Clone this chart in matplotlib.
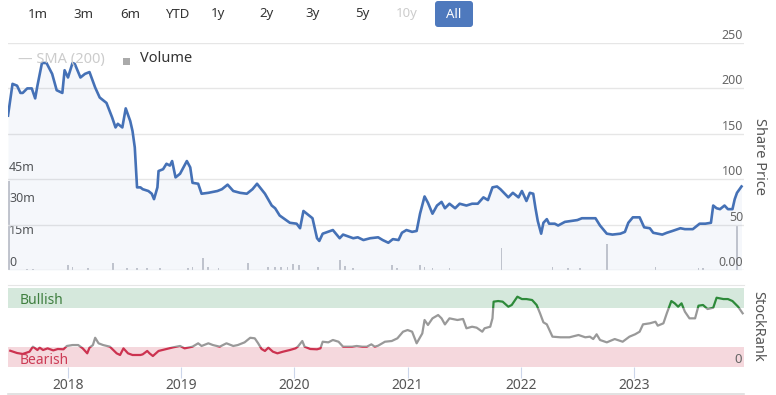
import matplotlib
matplotlib.use("Agg")
import matplotlib.pyplot as plt
import matplotlib.transforms as mtransforms
from matplotlib.patches import Rectangle, FancyBboxPatch
from matplotlib.lines import Line2D

plt.rcParams['font.family'] = ['Noto Sans', 'DejaVu Sans']

# share price (decimal year, price)
price_t = [2017.47, 2017.51, 2017.55, 2017.58, 2017.60, 2017.64, 2017.68, 2017.71, 2017.73, 2017.77,
           2017.81, 2017.86, 2017.90, 2017.95, 2017.97, 2018.00, 2018.04, 2018.06, 2018.11, 2018.15,
           2018.19, 2018.24, 2018.28, 2018.31, 2018.34, 2018.39, 2018.42, 2018.44, 2018.48, 2018.51,
           2018.55, 2018.57, 2018.59, 2018.61, 2018.64, 2018.66, 2018.71, 2018.74, 2018.76, 2018.79,
           2018.80, 2018.84, 2018.87, 2018.90, 2018.92, 2018.95, 2018.99, 2019.02, 2019.05, 2019.08,
           2019.10, 2019.15, 2019.18, 2019.24, 2019.32, 2019.36, 2019.41, 2019.46, 2019.52, 2019.58,
           2019.63, 2019.67, 2019.74, 2019.80, 2019.83, 2019.87, 2019.96, 2020.02, 2020.05, 2020.08,
           2020.16, 2020.20, 2020.22, 2020.25, 2020.34, 2020.40, 2020.43, 2020.52, 2020.56, 2020.61,
           2020.67, 2020.74, 2020.78, 2020.83, 2020.87, 2020.92, 2020.95, 2020.99, 2021.04, 2021.08,
           2021.11, 2021.15, 2021.18, 2021.22, 2021.26, 2021.30, 2021.33, 2021.37, 2021.42, 2021.46,
           2021.52, 2021.57, 2021.62, 2021.67, 2021.71, 2021.75, 2021.79, 2021.82, 2021.89, 2021.93,
           2021.98, 2022.01, 2022.05, 2022.08, 2022.11, 2022.13, 2022.15, 2022.18, 2022.20, 2022.23,
           2022.25, 2022.30, 2022.33, 2022.39, 2022.50, 2022.54, 2022.66, 2022.70, 2022.76, 2022.81,
           2022.88, 2022.92, 2022.95, 2022.99, 2023.05, 2023.09, 2023.14, 2023.17, 2023.25, 2023.29,
           2023.34, 2023.41, 2023.45, 2023.52, 2023.58, 2023.63, 2023.68, 2023.70, 2023.73, 2023.76,
           2023.80, 2023.83, 2023.87, 2023.89, 2023.91, 2023.95]
price_v = [170, 205, 203, 195, 195, 200, 200, 189, 203, 228,
           228, 216, 198, 195, 220, 212, 228, 227, 212, 216,
           218, 201, 190, 187, 184, 168, 157, 161, 157, 178,
           164, 153, 135, 91, 91, 89, 87, 84, 78, 91,
           109, 111, 117, 115, 120, 102, 106, 113, 120, 113,
           96, 95, 84, 85, 87, 89, 94, 87, 85, 84,
           89, 95, 84, 71, 68, 60, 52, 51, 46, 65,
           57, 35, 32, 40, 44, 35, 39, 35, 36, 33,
           35, 36, 33, 30, 34, 33, 41, 44, 42, 43,
           62, 81, 74, 62, 71, 75, 68, 73, 68, 73,
           71, 73, 73, 80, 77, 91, 92, 89, 80, 85,
           80, 87, 76, 85, 84, 68, 54, 40, 52, 56,
           51, 51, 49, 53, 55, 57, 57, 49, 40, 39,
           40, 42, 52, 58, 58, 47, 46, 41, 39, 41,
           43, 46, 45, 45, 51, 51, 52, 71, 68, 67,
           71, 67, 67, 78, 85, 92]

# volume in millions
vol_t = [2017.48, 2017.64, 2017.69, 2018.00, 2018.04, 2018.18, 2018.40, 2018.52, 2018.61, 2018.70,
         2018.81, 2019.06, 2019.10, 2019.19, 2019.24, 2019.33, 2019.59, 2019.77, 2019.83, 2019.88,
         2019.94, 2019.99, 2020.04, 2020.21, 2020.40, 2020.45, 2020.52, 2020.86, 2020.91, 2021.11,
         2021.15, 2021.22, 2021.37, 2021.83, 2022.28, 2022.42, 2022.52, 2022.76, 2023.19, 2023.57,
         2023.61, 2023.91]
vol_v = [42, 0.5, 0.5, 2.4, 1.4, 1.0, 3.3, 1.0, 1.0, 1.0,
         1.0, 1.0, 1.4, 5.7, 1.4, 1.0, 3.3, 1.4, 1.4, 1.4,
         1.4, 2.8, 2.4, 1.4, 4.7, 1.9, 1.0, 2.4, 1.0, 2.4,
         1.4, 1.0, 1.0, 10.4, 1.4, 1.0, 1.0, 12.3, 1.4, 1.0,
         1.0, 20.8]

# StockRank
rank_t = [2017.49, 2017.55, 2017.60, 2017.66, 2017.69, 2017.73, 2017.75, 2017.78, 2017.82, 2017.87,
          2017.91, 2017.96, 2017.99, 2018.04, 2018.09, 2018.13, 2018.17, 2018.19, 2018.22, 2018.24,
          2018.27, 2018.31, 2018.37, 2018.43, 2018.46, 2018.49, 2018.53, 2018.57, 2018.64, 2018.66,
          2018.70, 2018.72, 2018.75, 2018.80, 2018.87, 2018.93, 2018.99, 2019.03, 2019.10, 2019.15,
          2019.18, 2019.24, 2019.28, 2019.34, 2019.40, 2019.46, 2019.50, 2019.56, 2019.61, 2019.65,
          2019.68, 2019.71, 2019.74, 2019.77, 2019.81, 2019.85, 2019.90, 2019.96, 2020.01, 2020.03,
          2020.07, 2020.09, 2020.14, 2020.20, 2020.23, 2020.25, 2020.30, 2020.34, 2020.39, 2020.43,
          2020.51, 2020.55, 2020.60, 2020.64, 2020.68, 2020.71, 2020.74, 2020.80, 2020.86, 2020.91,
          2020.93, 2020.96, 2021.00, 2021.04, 2021.08, 2021.13, 2021.15, 2021.18, 2021.22, 2021.27,
          2021.30, 2021.33, 2021.37, 2021.44, 2021.49, 2021.52, 2021.57, 2021.61, 2021.66, 2021.68,
          2021.73, 2021.75, 2021.76, 2021.80, 2021.84, 2021.89, 2021.92, 2021.97, 2022.01, 2022.05,
          2022.10, 2022.14, 2022.17, 2022.20, 2022.23, 2022.26, 2022.28, 2022.35, 2022.43, 2022.51,
          2022.57, 2022.61, 2022.64, 2022.67, 2022.70, 2022.76, 2022.83, 2022.90, 2022.96, 2023.01,
          2023.05, 2023.08, 2023.14, 2023.19, 2023.21, 2023.26, 2023.29, 2023.33, 2023.36, 2023.39,
          2023.42, 2023.45, 2023.49, 2023.54, 2023.57, 2023.61, 2023.65, 2023.70, 2023.73, 2023.79,
          2023.83, 2023.87, 2023.92, 2023.96]
rank_v = [20.6, 17.7, 16.5, 19.4, 25.7, 21.5, 24.5, 21.5, 23.6, 21.0,
          22.8, 22.4, 26.6, 27.8, 27.8, 23.6, 17.3, 24.5, 27.8, 37.0,
          30.0, 27.8, 25.7, 17.3, 15.2, 23.6, 17.3, 15.2, 15.2, 16.0,
          20.3, 17.3, 13.9, 20.3, 22.8, 24.9, 26.6, 23.6, 25.7, 30.0,
          26.6, 30.0, 27.8, 25.7, 30.0, 26.6, 27.8, 31.2, 37.0, 36.3,
          30.0, 22.8, 20.3, 24.5, 19.4, 17.3, 19.4, 21.5, 23.6, 25.7,
          32.9, 25.7, 22.8, 22.4, 23.6, 32.0, 31.2, 34.2, 32.0, 25.7,
          25.7, 26.6, 25.7, 25.7, 28.7, 25.7, 27.0, 32.0, 32.9, 36.3,
          39.6, 44.7, 46.8, 44.7, 30.0, 42.5, 59.5, 53.2, 61.6, 65.8,
          61.6, 53.9, 61.6, 59.5, 60.8, 49.0, 51.0, 49.8, 44.7, 49.0,
          51.0, 61.6, 82.7, 83.5, 82.7, 76.3, 78.5, 89.0, 86.0, 86.0,
          84.8, 78.5, 68.0, 56.5, 54.0, 44.7, 38.4, 37.6, 37.6, 40.5,
          37.6, 38.4, 35.4, 41.4, 34.2, 31.2, 35.4, 32.0, 38.4, 41.4,
          44.7, 54.0, 55.3, 57.3, 52.3, 55.3, 68.0, 83.5, 80.6, 76.3,
          80.6, 70.0, 61.6, 61.6, 77.6, 78.5, 73.4, 75.0, 87.7, 86.0,
          86.0, 83.5, 76.3, 68.0]

years = [2018, 2019, 2020, 2021, 2022, 2023]
price_ticks = [0, 50, 100, 150, 200, 250]
price_labels = ['0.00', '50', '100', '150', '200', '250']
vol_ticks = [0, 15, 30, 45]
vol_labels = ['0', '15m', '30m', '45m']
range_labels = ['1m', '3m', '6m', 'YTD', '1y', '2y', '3y', '5y', '10y', 'All']
range_x = [38, 83, 130, 177, 218, 267, 313, 362, 407, 454]

W_PX, H_PX = 776, 395
fig = plt.figure(figsize=(W_PX / 100, H_PX / 100), dpi=100)

def fx(px):
    return px / W_PX

def fy(px):
    return 1 - px / H_PX

x0, x1 = 2017.47, 2023.972
left, width = fx(8), fx(744) - fx(8)
top_rect = [left, fy(270), width, fy(43) - fy(270)]

# volume behind
ax_vol = fig.add_axes(top_rect)
ax_vol.bar(vol_t, vol_v, width=0.016, color='#c6c8cf', linewidth=0)
ax_vol.set_xlim(x0, x1)
ax_vol.set_ylim(0, 107)
ax_vol.axis('off')
tv = mtransforms.offset_copy(mtransforms.blended_transform_factory(ax_vol.transAxes, ax_vol.transData),
                             fig=fig, x=1, y=1, units='dots')
for v, lab in zip(vol_ticks, vol_labels):
    ax_vol.text(0, v, lab, transform=tv, ha='left', va='bottom', fontsize=9, color='#555555')

# price in front
ax = fig.add_axes(top_rect)
ax.patch.set_visible(False)
for v in price_ticks:
    ax.axhline(v, color='#e6e6e6', lw=1, zorder=0)
ax.fill_between(price_t, price_v, 0, color='#4470b5', alpha=0.05, lw=0)
ax.plot(price_t, price_v, color='#4571b6', lw=1.9, solid_joinstyle='round')
ax.set_xlim(x0, x1)
ax.set_ylim(0, 250)
ax.axis('off')
tp = mtransforms.offset_copy(mtransforms.blended_transform_factory(ax.transAxes, ax.transData),
                             fig=fig, x=-1, y=1, units='dots')
for v, lab in zip(price_ticks, price_labels):
    ax.text(1, v, lab, transform=tp, ha='right', va='bottom', fontsize=9, color='#666666')

fig.text(fx(760), fy(157), 'Share Price', rotation=270, ha='center', va='center',
         fontsize=10.5, color='#555555')

# legend
fig.text(fx(18), fy(59), '— SMA (200)', ha='left', va='center', fontsize=10.5, color='#cccccc')
fig.add_artist(Rectangle((fx(123), fy(65)), fx(7), fy(58) - fy(65), transform=fig.transFigure,
                         color='#aaaaaa', lw=0))
fig.text(fx(140), fy(59), 'Volume', ha='left', va='center', fontsize=10.5, color='#333333')

# range selector
fig.add_artist(FancyBboxPatch((4.35, (H_PX - 27) / 100), 0.38, 0.26,
                              boxstyle='round,pad=0,rounding_size=0.03',
                              transform=fig.dpi_scale_trans, color='#4e79bd', lw=0))
for lab, px in zip(range_labels, range_x):
    if lab == 'All':
        fig.text(fx(px), fy(14), lab, ha='center', va='center', fontsize=9.5,
                 color='white', fontweight='bold')
    else:
        fig.text(fx(px), fy(14), lab, ha='center', va='center', fontsize=9.5,
                 color='#cccccc' if lab == '10y' else '#333333')

# StockRank panel
ax_r = fig.add_axes([left, fy(367), width, fy(285) - fy(367)])
ax_r.set_xlim(x0, x1)
ax_r.set_ylim(0, 103.8)
ax_r.axhspan(0, 25, color='#f5d8dd', lw=0)
ax_r.axhspan(75, 100, color='#d5e8dc', lw=0)
for lo, hi, col in [(-10, 25, '#cc3350'), (25, 75, '#999999'), (75, 120, '#2e8a3a')]:
    ln, = ax_r.plot(rank_t, rank_v, color=col, lw=1.6, solid_joinstyle='round')
    ln.set_clip_path(Rectangle((2017, lo), 8, hi - lo, transform=ax_r.transData))
ax_r.text(0.016, 84.8, 'Bullish', transform=mtransforms.blended_transform_factory(ax_r.transAxes, ax_r.transData),
          ha='left', va='center', fontsize=10, color='#3f7f3f')
ax_r.text(0.016, 7.6, 'Bearish', transform=mtransforms.blended_transform_factory(ax_r.transAxes, ax_r.transData),
          ha='left', va='center', fontsize=10, color='#cc3b55')
ax_r.text(1, 9, '0', transform=mtransforms.offset_copy(
    mtransforms.blended_transform_factory(ax_r.transAxes, ax_r.transData), fig=fig, x=-2, y=0, units='dots'),
    ha='right', va='center', fontsize=9.5, color='#666666')
for s in ['left', 'right', 'bottom']:
    ax_r.spines[s].set_visible(False)
ax_r.spines['top'].set_color('#e6e6e6')
ax_r.set_yticks([])
ax_r.set_xticks(years)
ax_r.set_xticklabels([str(y) for y in years])
ax_r.tick_params(axis='x', length=8, color='#ccd6eb', labelcolor='#555555', labelsize=10, pad=0)

fig.text(fx(758), fy(326), 'StockRank', rotation=270, ha='center', va='center',
         fontsize=10.5, color='#555555')

fig.add_artist(Line2D([fx(8), fx(744)], [fy(394), fy(394)], transform=fig.transFigure,
                      color='#dddddd', lw=1.2))

fig.savefig('out.png', dpi=100)
